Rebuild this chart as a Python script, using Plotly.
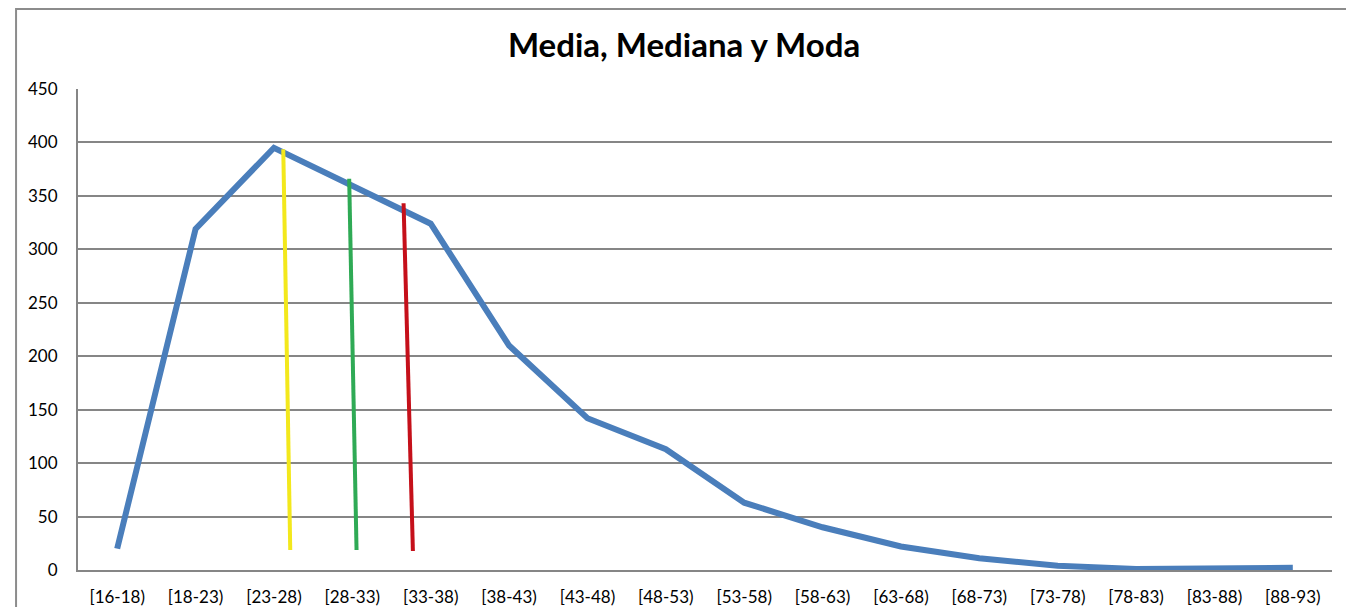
import plotly.graph_objects as go

categories = ["[16-18)", "[18-23)", "[23-28)", "[28-33)", "[33-38)", "[38-43)", "[43-48)", "[48-53)",
              "[53-58)", "[58-63)", "[63-68)", "[68-73)", "[73-78)", "[78-83)", "[83-88)", "[88-93)"]
frecuencia = [20, 319, 395, 360, 324, 210, 142, 113, 63, 40, 22, 11, 4, 1, 2, 2]

y_ticks = [0, 50, 100, 150, 200, 250, 300, 350, 400, 450]

# Marker lines (Moda, Mediana, Media), in category-index / value units
marker_names = ["Moda", "Mediana", "Media"]
marker_x_top = [2.119, 2.960, 3.654]
marker_x_bottom = [2.208, 3.054, 3.773]
marker_y_top = [393.6, 366.1, 343.1]
marker_y_bottom = [18.7, 18.7, 17.8]
marker_colors = ["#F3E81C", "#2FAA55", "#C5101A"]

fig = go.Figure()
fig.add_trace(go.Scatter(
    x=categories, y=frecuencia, mode="lines",
    line=dict(color="#4A7EBB", width=6), hoverinfo="x+y", showlegend=False,
))

shapes = []
for i in range(len(marker_names)):
    shapes.append(dict(type="line", xref="x", yref="y",
                       x0=marker_x_bottom[i], y0=marker_y_bottom[i],
                       x1=marker_x_top[i], y1=marker_y_top[i],
                       line=dict(color=marker_colors[i], width=4)))

# outer chart border
shapes.append(dict(type="rect", xref="paper", yref="paper",
                   x0=-0.0494, x1=1.0151, y0=-0.2, y1=1.1663,
                   line=dict(color="#8C8C8C", width=2), layer="below"))

fig.update_layout(
    width=1338, height=599,
    margin=dict(l=70, r=14, t=81, b=37, autoexpand=False),
    paper_bgcolor="white", plot_bgcolor="white",
    title=dict(text="<b>Media, Mediana y Moda</b>", x=0.4833, xref="paper", xanchor="center",
               y=1 - 37 / 599, yref="container", yanchor="middle",
               font=dict(family="Lato", size=33, color="black")),
    font=dict(family="Lato", size=17, color="black"),
    shapes=shapes,
    showlegend=False,
)
fig.update_xaxes(
    type="category", categoryorder="array", categoryarray=categories,
    showgrid=False, showline=True, linecolor="#868686", linewidth=2,
    ticks="outside", ticklen=11, tickcolor="rgba(0,0,0,0)",
    tickfont=dict(family="Lato", size=17, color="black"),
    range=[-0.5, len(categories) - 0.5], fixedrange=True, automargin=False,
)
fig.update_yaxes(
    range=[0, 450], tickvals=y_ticks, ticktext=[str(v) for v in y_ticks],
    showgrid=True, gridcolor="#868686", gridwidth=2,
    showline=True, linecolor="#868686", linewidth=2, zeroline=False,
    ticks="outside", ticklen=15, tickcolor="rgba(0,0,0,0)",
    tickfont=dict(family="Lato", size=17, color="black"),
    fixedrange=True, automargin=False,
)

fig.write_html("out.html")
